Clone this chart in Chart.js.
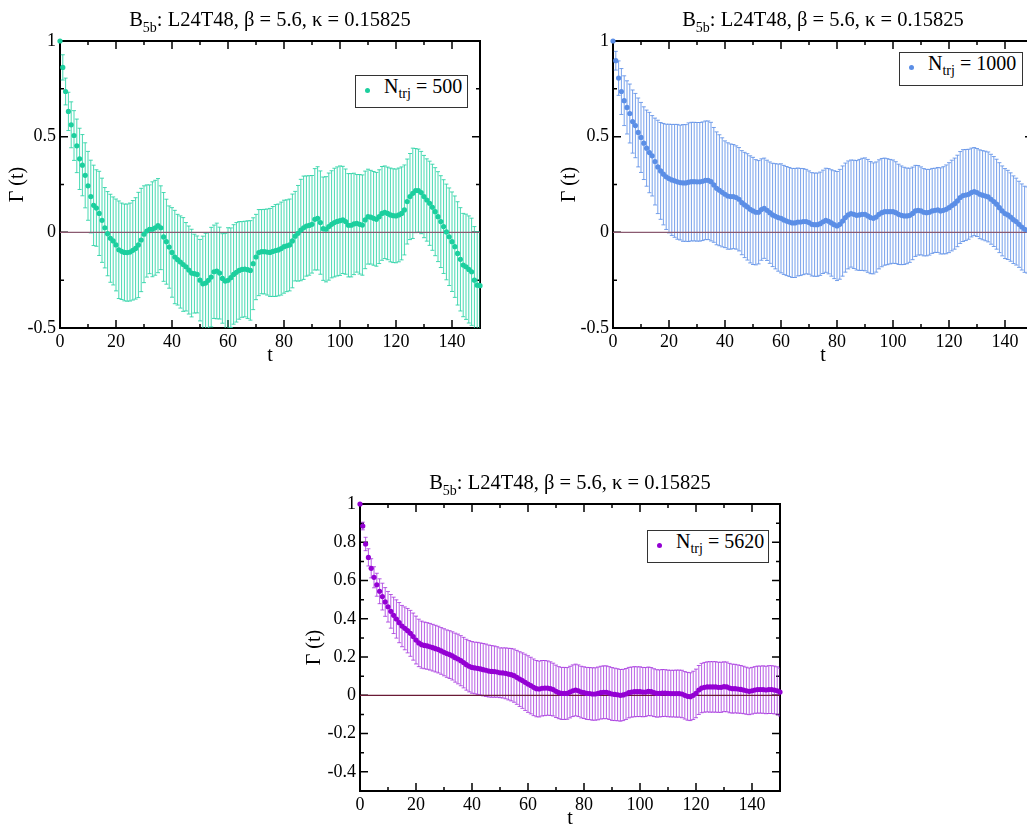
<!DOCTYPE html>
<html><head><meta charset="utf-8">
<script src="https://cdn.jsdelivr.net/npm/chart.js@4.4.1/dist/chart.umd.min.js"></script>
<style>
html,body{margin:0;padding:0;background:#fff;overflow:hidden;}
#page{position:relative;width:1027px;height:825px;overflow:hidden;background:#fff;}
.panel{position:absolute;width:500px;height:370px;}
.panel canvas{position:absolute;left:0;top:0;}
.title{position:absolute;left:60px;width:420px;top:9px;text-align:center;font-family:"Liberation Serif","Times New Roman",serif;font-size:20.5px;line-height:20px;white-space:nowrap;color:#000;}
.sub{font-size:14px;position:relative;top:6px;}
.legend{position:absolute;border:1.5px solid #333;background:#fff;box-sizing:border-box;font-family:"Liberation Serif","Times New Roman",serif;font-size:20px;line-height:20px;color:#000;white-space:nowrap;}
.legend .dot{position:absolute;left:9px;top:12px;width:5px;height:5px;border-radius:50%;}
.legend .txt{position:absolute;left:28px;top:0px;}
.legend .ls{font-size:14px;position:relative;top:5px;}
</style></head>
<body>
<div id="page">
  <div class="panel" id="p1" style="left:0px;top:0px;">
    <canvas id="c1" width="500" height="370"></canvas>
    <div class="title">B<span class="sub">5b</span>: L24T48, β = 5.6, κ = 0.15825</div>
    <div class="legend" style="left:355px;top:75px;width:113px;height:33px;"><span class="dot" style="background:#1ccf9e"></span><span class="txt">N<span class="ls">trj</span> = 500</span></div>
  </div>
  <div class="panel" id="p2" style="left:553px;top:0px;">
    <canvas id="c2" width="500" height="370"></canvas>
    <div class="title">B<span class="sub">5b</span>: L24T48, β = 5.6, κ = 0.15825</div>
    <div class="legend" style="left:346px;top:52px;width:124px;height:34px;"><span class="dot" style="background:#5b8ee6"></span><span class="txt">N<span class="ls">trj</span> = 1000</span></div>
  </div>
  <div class="panel" id="p3" style="left:300px;top:463px;">
    <canvas id="c3" width="500" height="370"></canvas>
    <div class="title">B<span class="sub">5b</span>: L24T48, β = 5.6, κ = 0.15825</div>
    <div class="legend" style="left:347px;top:67px;width:122px;height:33px;"><span class="dot" style="background:#9400d3"></span><span class="txt">N<span class="ls">trj</span> = 5620</span></div>
  </div>
</div>
<script>
// ---- data ----
const tSteps = [0,1,2,3,4,5,6,7,8,9,10,11,12,13,14,15,16,17,18,19,20,21,22,23,24,25,26,27,28,29,30,31,32,33,34,35,36,37,38,39,40,41,42,43,44,45,46,47,48,49,50,51,52,53,54,55,56,57,58,59,60,61,62,63,64,65,66,67,68,69,70,71,72,73,74,75,76,77,78,79,80,81,82,83,84,85,86,87,88,89,90,91,92,93,94,95,96,97,98,99,100,101,102,103,104,105,106,107,108,109,110,111,112,113,114,115,116,117,118,119,120,121,122,123,124,125,126,127,128,129,130,131,132,133,134,135,136,137,138,139,140,141,142,143,144,145,146,147,148,149,150];

const gamma500 = [
1.000,0.862,0.736,0.632,0.562,0.506,0.452,0.384,0.351,0.298,
0.243,0.187,0.141,0.127,0.099,0.063,0.024,-0.007,-0.031,-0.045,
-0.066,-0.091,-0.099,-0.105,-0.106,-0.103,-0.094,-0.084,-0.066,-0.040,
-0.010,0.007,0.016,0.016,0.024,0.035,0.024,-0.024,-0.049,-0.077,
-0.105,-0.129,-0.143,-0.155,-0.168,-0.180,-0.197,-0.213,-0.216,-0.220,
-0.250,-0.269,-0.265,-0.251,-0.234,-0.206,-0.202,-0.213,-0.241,-0.255,
-0.251,-0.237,-0.220,-0.209,-0.199,-0.194,-0.192,-0.195,-0.199,-0.164,
-0.129,-0.106,-0.101,-0.101,-0.103,-0.105,-0.100,-0.095,-0.092,-0.085,
-0.075,-0.070,-0.066,-0.045,-0.020,-0.005,0.012,0.024,0.033,0.036,
0.042,0.068,0.073,0.051,0.019,0.016,0.030,0.042,0.051,0.057,
0.061,0.065,0.056,0.037,0.037,0.044,0.047,0.042,0.038,0.065,
0.082,0.079,0.073,0.068,0.082,0.099,0.105,0.099,0.091,0.087,
0.086,0.091,0.099,0.117,0.161,0.187,0.204,0.218,0.218,0.208,
0.187,0.169,0.152,0.131,0.108,0.082,0.056,0.030,0.002,-0.023,
-0.049,-0.075,-0.110,-0.141,-0.171,-0.180,-0.194,-0.206,-0.250,-0.276,
-0.279];
const err500 = [
0,
0.066,0.070,0.100,0.120,0.130,0.140,0.160,0.160,0.170,0.180,
0.190,0.210,0.200,0.220,0.220,0.210,0.220,0.230,0.230,0.240,
0.255,0.252,0.253,0.254,0.256,0.260,0.265,0.275,0.270,0.253,
0.241,0.232,0.248,0.248,0.246,0.219,0.232,0.222,0.215,0.234,
0.244,0.237,0.241,0.245,0.231,0.230,0.229,0.206,0.201,0.213,
0.249,0.260,0.250,0.260,0.244,0.250,0.240,0.234,0.250,0.275,
0.260,0.260,0.260,0.255,0.250,0.250,0.255,0.260,0.240,0.223,
0.225,0.220,0.221,0.225,0.230,0.235,0.240,0.240,0.243,0.243,
0.240,0.240,0.245,0.234,0.250,0.265,0.270,0.262,0.260,0.255,
0.265,0.270,0.270,0.270,0.275,0.280,0.280,0.284,0.285,0.286,
0.280,0.275,0.270,0.270,0.265,0.255,0.260,0.262,0.255,0.248,
0.245,0.245,0.245,0.245,0.245,0.242,0.242,0.245,0.245,0.245,
0.245,0.243,0.235,0.222,0.225,0.236,0.220,0.217,0.215,0.215,
0.215,0.220,0.225,0.230,0.235,0.240,0.245,0.250,0.255,0.260,
0.265,0.270,0.270,0.270,0.275,0.280,0.280,0.280,0.280,0.280];

const gamma1000 = [
1.000,0.897,0.806,0.736,0.688,0.653,0.621,0.579,0.558,0.522,
0.496,0.466,0.440,0.417,0.400,0.370,0.342,0.321,0.304,0.290,
0.281,0.274,0.269,0.264,0.260,0.258,0.258,0.262,0.265,0.265,
0.264,0.264,0.267,0.272,0.272,0.265,0.248,0.230,0.220,0.209,
0.199,0.190,0.187,0.187,0.182,0.173,0.155,0.143,0.133,0.120,
0.112,0.105,0.105,0.119,0.126,0.115,0.103,0.091,0.084,0.077,
0.073,0.065,0.059,0.054,0.049,0.049,0.054,0.054,0.056,0.056,
0.051,0.042,0.040,0.040,0.045,0.055,0.063,0.058,0.049,0.040,
0.033,0.042,0.059,0.077,0.091,0.098,0.094,0.089,0.091,0.094,
0.094,0.086,0.077,0.073,0.080,0.094,0.103,0.108,0.108,0.108,
0.108,0.103,0.094,0.089,0.086,0.086,0.089,0.099,0.112,0.115,
0.112,0.105,0.103,0.105,0.112,0.115,0.117,0.112,0.115,0.120,
0.129,0.140,0.150,0.164,0.182,0.192,0.195,0.199,0.208,0.213,
0.208,0.199,0.194,0.190,0.185,0.173,0.161,0.147,0.129,0.112,
0.098,0.091,0.080,0.066,0.056,0.042,0.028,0.016,0.012,0.008,
0.005];
const err1000 = [
0,
0.049,0.090,0.120,0.130,0.139,0.154,0.165,0.168,0.180,0.183,
0.190,0.199,0.210,0.210,0.227,0.244,0.253,0.265,0.275,0.284,
0.290,0.295,0.300,0.300,0.305,0.305,0.310,0.310,0.310,0.310,
0.310,0.310,0.310,0.310,0.310,0.300,0.295,0.290,0.285,0.279,
0.278,0.275,0.272,0.270,0.270,0.272,0.275,0.278,0.280,0.280,
0.275,0.270,0.265,0.262,0.262,0.265,0.270,0.275,0.280,0.285,
0.285,0.285,0.285,0.285,0.285,0.282,0.280,0.277,0.273,0.270,
0.270,0.270,0.270,0.270,0.270,0.272,0.275,0.278,0.282,0.285,
0.287,0.288,0.285,0.282,0.280,0.283,0.286,0.290,0.293,0.295,
0.295,0.293,0.290,0.288,0.285,0.283,0.280,0.277,0.273,0.270,
0.266,0.262,0.258,0.254,0.250,0.246,0.242,0.238,0.234,0.230,
0.228,0.226,0.224,0.222,0.220,0.222,0.225,0.228,0.232,0.235,
0.237,0.238,0.239,0.240,0.240,0.238,0.235,0.232,0.230,0.230,
0.232,0.233,0.234,0.235,0.235,0.235,0.235,0.235,0.235,0.235,
0.233,0.231,0.229,0.227,0.225,0.225,0.225,0.225,0.225,0.225];

const gamma5620 = [
1.000,0.885,0.791,0.721,0.664,0.617,0.578,0.544,0.516,0.488,
0.463,0.439,0.418,0.399,0.380,0.362,0.350,0.338,0.324,0.307,
0.289,0.274,0.265,0.261,0.258,0.254,0.249,0.244,0.239,0.232,
0.225,0.218,0.213,0.206,0.197,0.190,0.181,0.171,0.160,0.152,
0.146,0.143,0.141,0.138,0.134,0.131,0.127,0.125,0.124,0.122,
0.118,0.117,0.115,0.111,0.108,0.103,0.094,0.085,0.077,0.068,
0.059,0.051,0.042,0.035,0.033,0.037,0.038,0.038,0.035,0.030,
0.021,0.014,0.010,0.010,0.010,0.017,0.024,0.028,0.024,0.017,
0.014,0.010,0.009,0.007,0.007,0.010,0.014,0.016,0.016,0.012,
0.007,0.005,0.003,0.000,0.002,0.007,0.014,0.017,0.019,0.019,
0.019,0.017,0.017,0.021,0.019,0.014,0.010,0.010,0.012,0.012,
0.010,0.009,0.009,0.009,0.009,0.007,0.000,-0.005,-0.007,0.000,
0.010,0.028,0.038,0.042,0.044,0.044,0.044,0.044,0.042,0.042,
0.045,0.044,0.038,0.035,0.035,0.033,0.031,0.028,0.024,0.021,
0.024,0.028,0.030,0.030,0.030,0.028,0.030,0.030,0.028,0.024,
0.017];
const err5620 = [
0,
0.020,0.035,0.045,0.050,0.055,0.060,0.065,0.070,0.075,0.080,
0.088,0.095,0.100,0.105,0.108,0.112,0.116,0.120,0.123,0.125,
0.124,0.123,0.122,0.122,0.122,0.122,0.122,0.122,0.122,0.123,
0.124,0.125,0.126,0.128,0.130,0.131,0.132,0.133,0.134,0.135,
0.135,0.136,0.136,0.137,0.137,0.136,0.135,0.134,0.132,0.130,
0.131,0.133,0.135,0.137,0.139,0.141,0.143,0.145,0.147,0.148,
0.148,0.148,0.147,0.146,0.145,0.144,0.142,0.140,0.138,0.137,
0.136,0.136,0.136,0.135,0.135,0.135,0.135,0.135,0.135,0.135,
0.136,0.136,0.137,0.137,0.138,0.138,0.138,0.138,0.138,0.138,
0.137,0.136,0.135,0.134,0.133,0.132,0.131,0.131,0.130,0.130,
0.129,0.128,0.127,0.126,0.125,0.124,0.123,0.123,0.122,0.122,
0.122,0.122,0.123,0.123,0.124,0.124,0.125,0.125,0.126,0.127,
0.128,0.129,0.130,0.131,0.132,0.132,0.132,0.131,0.131,0.130,
0.130,0.129,0.128,0.127,0.126,0.125,0.124,0.123,0.122,0.122,
0.122,0.123,0.123,0.124,0.124,0.125,0.125,0.125,0.125,0.125];

const xTickLabels = [0,20,40,60,80,100,120,140];
const xMinorTicks = [10,30,50,70,90,110,130];
const yTickLabelsA = [-0.5,0,0.5,1];
const yMinorTicksA = [-0.25,0.25,0.75];
const yTickLabelsB = [-0.4,-0.2,0,0.2,0.4,0.6,0.8,1];
const yMinorTicksB = [-0.3,-0.1,0.1,0.3,0.5,0.7,0.9];
const zeroLine = [0,150];

// ---- drawing ----
const framePlugin = {
  id: 'frame',
  beforeDatasetsDraw(chart, args, opts) {
    const {ctx, chartArea: a, scales: {x, y}} = chart;
    ctx.save();
    ctx.strokeStyle = '#000';
    ctx.lineWidth = 1.5;
    ctx.beginPath();
    const vt = (vals, len) => vals.forEach(v => {
      const p = x.getPixelForValue(v);
      ctx.moveTo(p, a.bottom); ctx.lineTo(p, a.bottom - len);
      ctx.moveTo(p, a.top); ctx.lineTo(p, a.top + len);
    });
    const ht = (vals, len) => vals.forEach(v => {
      const p = y.getPixelForValue(v);
      ctx.moveTo(a.left, p); ctx.lineTo(a.left + len, p);
      ctx.moveTo(a.right, p); ctx.lineTo(a.right - len, p);
    });
    vt(opts.xMajor, 8); vt(opts.xMinor, 4);
    ht(opts.yMajor, 8); ht(opts.yMinor, 4);
    ctx.stroke();
    ctx.lineWidth = 2;
    ctx.strokeRect(a.left, a.top, a.right - a.left, a.bottom - a.top);
    ctx.restore();
  }
};

const FONT = 'Liberation Serif';

function makePanel(canvasId, vals, errs, color, barColor, yTicks, yMinor, yTitlePad, zeroColor) {
  const pts = vals.map((v, i) => ({x: tSteps[i], y: v}));
  const bars = vals.map((v, i) => ({x: tSteps[i], y: [v - errs[i], v + errs[i]]}));
  const capsHi = vals.map((v, i) => ({x: tSteps[i], y: v + errs[i]}));
  const capsLo = vals.map((v, i) => ({x: tSteps[i], y: v - errs[i]}));
  const zl = zeroLine.map(t => ({x: t, y: 0}));
  new Chart(document.getElementById(canvasId), {
    type: 'scatter',
    data: {
      datasets: [
        {type: 'scatter', data: pts, order: 0, pointRadius: 2.6, pointHoverRadius: 2.6,
         pointBackgroundColor: color, pointBorderWidth: 0, borderWidth: 0, clip: 6},
        {type: 'line', data: zl, order: 1, borderColor: zeroColor, borderWidth: 1.2,
         pointRadius: 0, fill: false, clip: 0},
        {type: 'scatter', data: capsHi, order: 2, pointStyle: 'line', pointRadius: 2,
         pointBorderColor: barColor, pointBorderWidth: 1, clip: 0},
        {type: 'scatter', data: capsLo, order: 2, pointStyle: 'line', pointRadius: 2,
         pointBorderColor: barColor, pointBorderWidth: 1, clip: 0},
        {type: 'bar', data: bars, order: 3, backgroundColor: barColor, borderWidth: 0,
         barThickness: 1, grouped: false, inflateAmount: 0, clip: 0}
      ]
    },
    options: {
      responsive: false, animation: false, events: [],
      layout: {padding: {top: 41, right: 20, left: 0, bottom: 0}},
      plugins: {
        legend: {display: false}, tooltip: {enabled: false}, title: {display: false},
        frame: {xMajor: xTickLabels, xMinor: xMinorTicks, yMajor: yTicks, yMinor: yMinor}
      },
      scales: {
        x: {
          type: 'linear', min: 0, max: 150, offset: false,
          grid: {display: false, drawTicks: false}, border: {display: false},
          afterBuildTicks: s => { s.ticks = xTickLabels.map(v => ({value: v})); },
          afterFit: s => { s.height = 42; },
          ticks: {font: {family: FONT, size: 18}, color: '#000', padding: 3, maxRotation: 0,
                  autoSkip: false, callback: v => String(v)},
          title: {display: true, text: 't', font: {family: FONT, size: 20}, color: '#000',
                  padding: {top: 0, bottom: 2}}
        },
        y: {
          type: 'linear', min: -0.5, max: 1,
          grid: {display: false, drawTicks: false}, border: {display: false},
          afterBuildTicks: s => { s.ticks = yTicks.map(v => ({value: v})); },
          afterFit: s => { s.width = 60; },
          ticks: {font: {family: FONT, size: 18}, color: '#000', padding: 4,
                  autoSkip: false, callback: v => String(v)},
          title: {display: true, text: 'Γ (t)', font: {family: FONT, size: 20}, color: '#000',
                  padding: {top: yTitlePad, bottom: 0}}
        }
      }
    },
    plugins: [framePlugin]
  });
}

makePanel('c1', gamma500, err500, '#1ccf9e', 'rgba(40,210,165,0.85)', yTickLabelsA, yMinorTicksA, 6, '#8a5a70');
makePanel('c2', gamma1000, err1000, '#5b8ee6', 'rgba(95,145,232,0.85)', yTickLabelsA, yMinorTicksA, 5, '#8a5a70');
makePanel('c3', gamma5620, err5620, '#9400d3', 'rgba(160,40,220,0.75)', yTickLabelsB, yMinorTicksB, 3, '#6a1a35');
</script>
</body></html>
